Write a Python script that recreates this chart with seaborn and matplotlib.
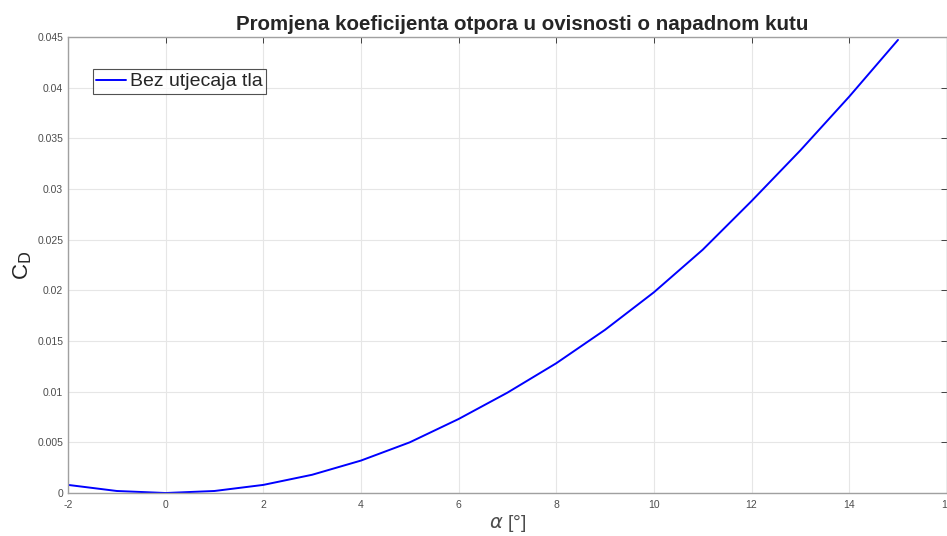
import numpy as np
import pandas as pd
import matplotlib
matplotlib.use('Agg')
import matplotlib.pyplot as plt
import seaborn as sns

# kut napada [deg] i koeficijent otpora (ocitano sa slike)
alpha = [-2, -1, 0, 1, 2, 3, 4, 5, 6, 7, 8, 9, 10, 11, 12, 13, 14, 15]
cd = [0.0008, 0.0002, 0.0, 0.0002, 0.0008, 0.0018, 0.0032, 0.0050, 0.0073, 0.0099,
      0.0128, 0.0161, 0.0198, 0.0240, 0.0288, 0.0338, 0.0391, 0.0447]
xticks = [-2, 0, 2, 4, 6, 8, 10, 12, 14, 16]
yticks = [0, 0.005, 0.01, 0.015, 0.02, 0.025, 0.03, 0.035, 0.04, 0.045]
ytick_labels = ['0', '0.005', '0.01', '0.015', '0.02', '0.025', '0.03', '0.035', '0.04', '0.045']

df = pd.DataFrame({'alpha': alpha, 'CD': cd})

sns.set_style('whitegrid')
plt.rcParams['font.family'] = ['Liberation Sans', 'DejaVu Sans']
plt.rcParams['mathtext.fontset'] = 'dejavusans'

fig = plt.figure(figsize=(9.47, 5.36), dpi=100)
ax = fig.add_axes([0.0718, 0.0802, 0.928, 0.851])

sns.lineplot(x='alpha', y='CD', data=df, ax=ax, color='#0000ff', linewidth=1.4,
             label='Bez utjecaja tla')

ax.set_xlim(-2, 16)
ax.set_ylim(0, 0.045)
ax.set_xticks(xticks)
ax.set_xticklabels([str(t) for t in xticks])
ax.set_yticks(yticks)
ax.set_yticklabels(ytick_labels)
ax.grid(True, color='#e6e6e6', linewidth=0.8)
ax.tick_params(direction='in', length=4, colors='#262626', labelcolor='#4d4d4d',
               labelsize=7.5, top=True, right=True, width=0.6)
ax.tick_params(axis='x', pad=5)
for s in ax.spines.values():
    s.set_visible(True)
    s.set_color('#a0a0a0')
    s.set_linewidth(1.0)

ax.set_title('Promjena koeficijenta otpora u ovisnosti o napadnom kutu',
             fontsize=14.8, fontweight='bold', pad=5, x=0.517)
ax.set_xlabel(r'$\alpha$ [°]', fontsize=14, color='#4d4d4d', labelpad=2)
ax.set_ylabel(r'C$_\mathrm{D}$', fontsize=16, color='#262626', labelpad=2)

leg = ax.legend(loc='upper left', bbox_to_anchor=(0.028, 0.93), fontsize=14,
                frameon=True, fancybox=False, handlelength=1.5, handletextpad=0.2,
                borderpad=0.2, borderaxespad=0)
leg.get_frame().set_edgecolor('#262626')
leg.get_frame().set_linewidth(0.8)

fig.savefig('out.png', dpi=100)
